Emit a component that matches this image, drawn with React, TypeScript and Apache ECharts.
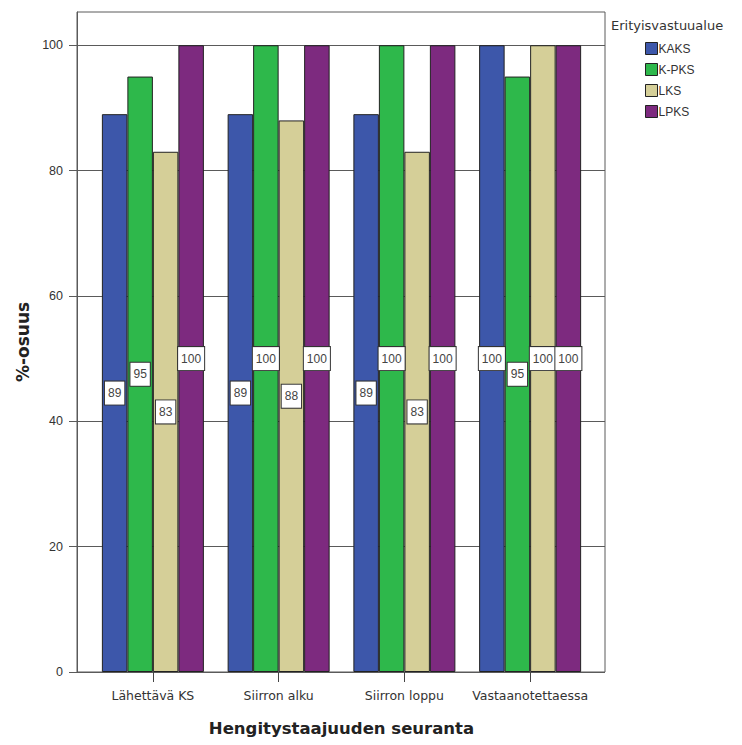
import React, { useEffect, useRef } from "react";
import * as echarts from "echarts";

// Seurantavaiheet (x-akseli)
const categories = ["Lähettävä KS", "Siirron alku", "Siirron loppu", "Vastaanotettaessa"];

// Erityisvastuualueiden osuudet (%)
const kaks = [89, 89, 89, 100];
const kpks = [95, 100, 100, 95];
const lks = [83, 88, 83, 100];
const lpks = [100, 100, 100, 100];

const seriesNames = ["KAKS", "K-PKS", "LKS", "LPKS"];
const seriesColors = ["#3d57aa", "#2eb84b", "#d5cf98", "#7d2a7f"];
const yTicks = [0, 20, 40, 60, 80, 100];

const FONT = "'Liberation Sans', Arial, sans-serif";
const WIDE = "'DejaVu Sans', Verdana, sans-serif";

export default function App() {
  const ref = useRef<HTMLDivElement>(null);

  useEffect(() => {
    if (!ref.current) return;
    const chart = echarts.init(ref.current, undefined, { renderer: "svg" });
    const values = [kaks, kpks, lks, lpks];
    const yMax = 105.3;

    chart.setOption({
      animation: false,
      backgroundColor: "#ffffff",
      textStyle: { fontFamily: FONT },
      grid: [
        // frame, value axis and gridlines
        { left: 77, right: 137, top: 12, bottom: 73, show: true, borderColor: "#5a5a5a", borderWidth: 1, backgroundColor: "transparent" },
        // bars
        { left: 90, right: 149, top: 12, bottom: 73 },
      ],
      legend: {
        orient: "vertical",
        left: 640,
        top: 37,
        itemWidth: 12,
        itemHeight: 12,
        itemGap: 8,
        icon: "rect",
        data: seriesNames,
        textStyle: { fontFamily: FONT, fontSize: 12, color: "#333", padding: [0, 0, 0, -4] },
        itemStyle: { borderColor: "#222", borderWidth: 1 },
      },
      graphic: [
        {
          type: "text",
          left: 611,
          top: 19,
          style: { text: "Erityisvastuualue", fontFamily: WIDE, fontSize: 13, fill: "#333" },
        },
      ],
      xAxis: [
        { type: "value", gridIndex: 0, show: false, min: 0, max: 1 },
        {
          type: "category",
          gridIndex: 1,
          data: categories,
          boundaryGap: true,
          axisLine: { show: false },
          axisTick: { show: true, alignWithLabel: true, length: 10, lineStyle: { color: "#444" } },
          axisLabel: { interval: 0, margin: 17, fontSize: 12.5, color: "#333", fontFamily: WIDE },
          name: "Hengitystaajuuden seuranta",
          nameLocation: "middle",
          nameGap: 48,
          nameTextStyle: { fontSize: 16.5, fontWeight: "bold", color: "#222", fontFamily: WIDE },
        },
      ],
      yAxis: [
        {
          type: "value",
          gridIndex: 0,
          min: 0,
          max: yMax,
          interval: 20,
          axisLine: { show: true, lineStyle: { color: "#5a5a5a" } },
          axisTick: { show: true, length: 8, customValues: yTicks, lineStyle: { color: "#5a5a5a" } },
          axisLabel: {
            margin: 14,
            fontSize: 12.5,
            color: "#333",
            fontFamily: FONT,
            customValues: yTicks,
          },
          splitLine: { show: true, lineStyle: { color: "#5a5a5a", width: 1 } },
          name: "%-osuus",
          nameLocation: "middle",
          nameGap: 44,
          nameTextStyle: { fontSize: 17, fontWeight: "bold", color: "#222", fontFamily: WIDE },
        },
        { type: "value", gridIndex: 1, min: 0, max: yMax, show: false },
      ],
      series: seriesNames.map((name, i) => ({
        name,
        type: "bar",
        xAxisIndex: 1,
        yAxisIndex: 1,
        data: values[i],
        barWidth: 25.5,
        barGap: "0%",
        itemStyle: { color: seriesColors[i], borderColor: "#222", borderWidth: 1 },
        label: {
          show: true,
          position: "inside",
          fontFamily: FONT,
          fontSize: 12,
          color: "#444",
          backgroundColor: "#ffffff",
          borderColor: "#333",
          borderWidth: 1,
          padding: [6, 3, 5, 3],
        },
      })),
    });

    return () => chart.dispose();
  }, []);

  return <div ref={ref} style={{ width: 742, height: 745, position: "absolute", left: 0, top: 0 }} />;
}
